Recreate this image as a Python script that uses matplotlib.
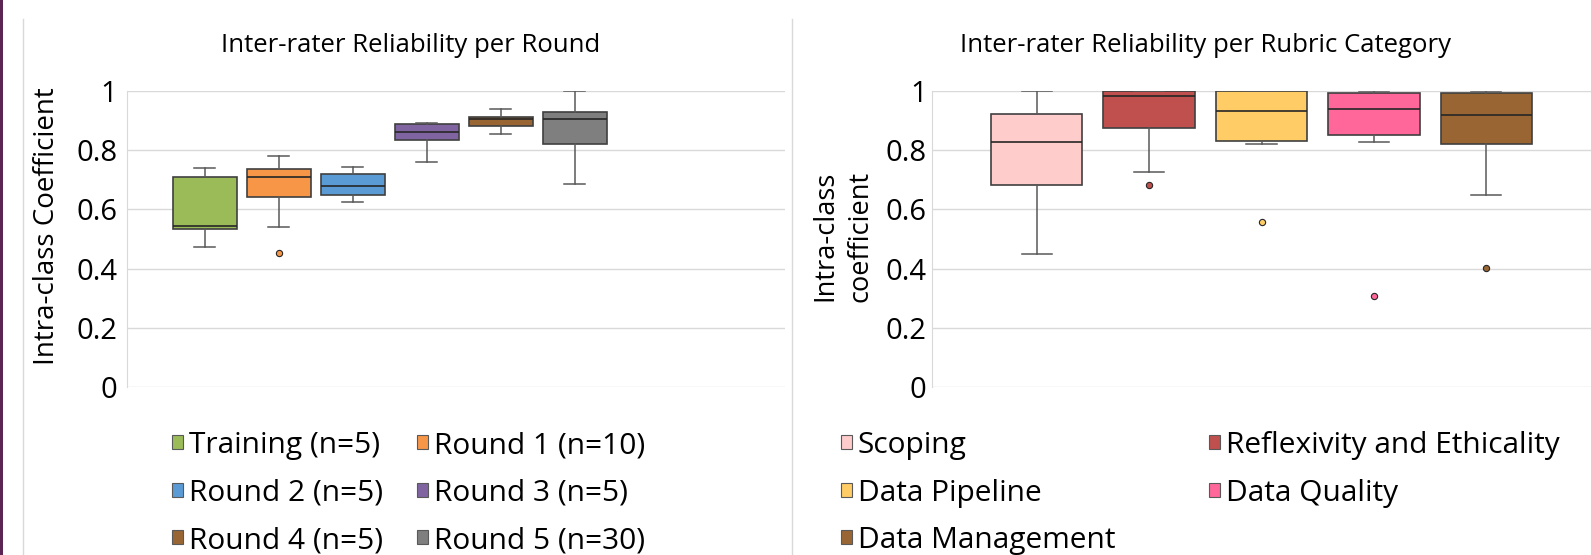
import matplotlib
matplotlib.use('Agg')
import matplotlib.pyplot as plt
from matplotlib.patches import Patch, Rectangle
from matplotlib.lines import Line2D

plt.rcParams['font.family'] = ['Open Sans', 'DejaVu Sans']

# ---- left panel: ICC per round (five-number summaries)
rounds = ['Training (n=5)', 'Round 1 (n=10)', 'Round 2 (n=5)',
          'Round 3 (n=5)', 'Round 4 (n=5)', 'Round 5 (n=30)']
round_colors = ['#9BBB59', '#F79646', '#5B9BD5', '#8064A2', '#996633', '#7F7F7F']
round_low = [0.472, 0.539, 0.626, 0.760, 0.856, 0.685]
round_q1 = [0.533, 0.643, 0.649, 0.833, 0.882, 0.822]
round_med = [0.543, 0.711, 0.679, 0.861, 0.906, 0.907]
round_q3 = [0.711, 0.736, 0.719, 0.890, 0.912, 0.930]
round_high = [0.740, 0.779, 0.743, 0.892, 0.940, 1.0]
round_out = [[], [0.452], [], [], [], []]

# ---- right panel: ICC per rubric category
cats = ['Scoping', 'Reflexivity and Ethicality', 'Data Pipeline',
        'Data Quality', 'Data Management']
cat_colors = ['#FFCCCC', '#C0504D', '#FFCC66', '#FF6699', '#996633']
cat_low = [0.449, 0.728, 0.821, 0.829, 0.648]
cat_q1 = [0.684, 0.876, 0.831, 0.852, 0.822]
cat_med = [0.829, 0.984, 0.933, 0.940, 0.919]
cat_q3 = [0.921, 1.0, 1.0, 0.993, 0.993]
cat_high = [1.0, 1.0, 1.0, 1.0, 1.0]
cat_out = [[], [0.681], [0.556], [0.306], [0.401]]

yticks = [0, 0.2, 0.4, 0.6, 0.8, 1]
ytick_labels = ['0', '0.2', '0.4', '0.6', '0.8', '1']

W, H = 1591, 555
fig = plt.figure(figsize=(W / 100, H / 100), dpi=100)
fig.patch.set_facecolor('white')


def stats(low, q1, med, q3, high, out):
    return [dict(whislo=a, q1=b, med=c, q3=d, whishi=e, fliers=f)
            for a, b, c, d, e, f in zip(low, q1, med, q3, high, out)]


def draw_boxes(ax, st, colors, width):
    pos = list(range(1, len(st) + 1))
    bp = ax.bxp(st, positions=pos, widths=width, patch_artist=True,
                capwidths=width * 0.33,
                medianprops=dict(color='#262626', lw=1.2),
                whiskerprops=dict(color='#595959', lw=1.1),
                capprops=dict(color='#595959', lw=1.1),
                boxprops=dict(edgecolor='#404040', lw=1.2))
    for patch, c in zip(bp['boxes'], colors):
        patch.set_facecolor(c)
    for fl, c in zip(bp['fliers'], colors):
        fl.set(marker='o', markersize=4.5, markerfacecolor=c,
               markeredgecolor='#262626', markeredgewidth=0.8)


def style_axes(ax, pad):
    ax.set_ylim(0, 1)
    ax.set_yticks(yticks)
    ax.set_yticklabels(ytick_labels)
    ax.set_xticks([])
    ax.grid(axis='y', color='#D9D9D9', lw=1)
    ax.set_axisbelow(True)
    for s in ['top', 'right', 'bottom']:
        ax.spines[s].set_visible(False)
    ax.spines['left'].set_color('#D9D9D9')
    ax.tick_params(axis='y', length=0, labelsize=21, pad=pad, labelcolor='black')


def to_fx(px):
    return px / W


def to_fy(py):
    return 1 - py / H


bottom, top = to_fy(387), to_fy(91)

ax1 = fig.add_axes([to_fx(127), bottom, to_fx(785) - to_fx(127), top - bottom])
draw_boxes(ax1, stats(round_low, round_q1, round_med, round_q3, round_high,
                      round_out), round_colors, 0.86)
ax1.set_xlim(-0.05, 8.84)
style_axes(ax1, 7)

ax2 = fig.add_axes([to_fx(932), bottom, 1 - to_fx(932), top - bottom])
draw_boxes(ax2, stats(cat_low, cat_q1, cat_med, cat_q3, cat_high, cat_out),
           cat_colors, 0.81)
ax2.set_xlim(0.07, 5.93)
style_axes(ax2, 4)

# titles and axis titles
fig.text(to_fx(411), to_fy(46), 'Inter-rater Reliability per Round',
         ha='center', va='center', fontsize=18.5)
fig.text(to_fx(1206), to_fy(46), 'Inter-rater Reliability per Rubric Category',
         ha='center', va='center', fontsize=18.5)
fig.text(to_fx(47), to_fy(226), 'Intra-class Coefficient', rotation=90,
         ha='center', va='center', fontsize=20)
fig.text(to_fx(843), to_fy(236), 'Intra-class\ncoefficient', rotation=90,
         ha='center', va='center', fontsize=19.5, linespacing=1.3,
         multialignment='center')


def column_legend(labels, colors, x_px):
    handles = [Patch(facecolor=c, edgecolor='#595959', lw=0.8) for c in colors]
    leg = fig.legend(handles, labels, loc='upper left',
                     bbox_to_anchor=(to_fx(x_px), to_fy(431)),
                     frameon=False, fontsize=21.5, handlelength=0.36,
                     handleheight=0.36, handletextpad=0.2, labelspacing=0.62,
                     borderaxespad=0, borderpad=0)
    return leg


column_legend(rounds[0::2], round_colors[0::2], 172)
column_legend(rounds[1::2], round_colors[1::2], 417)
column_legend([cats[0], cats[2], cats[4]],
              [cat_colors[0], cat_colors[2], cat_colors[4]], 841)
column_legend([cats[1], cats[3]], [cat_colors[1], cat_colors[3]], 1209)

# chart-area borders and the coloured strip on the far left
fig.add_artist(Rectangle((0, 0), to_fx(3), 1, transform=fig.transFigure,
                         color='#5B2452', lw=0))
for xp in (23, 792):
    fig.add_artist(Line2D([to_fx(xp), to_fx(xp)], [0, to_fy(19)],
                          transform=fig.transFigure, color='#D9D9D9', lw=1))

fig.savefig('out.png', dpi=100)
